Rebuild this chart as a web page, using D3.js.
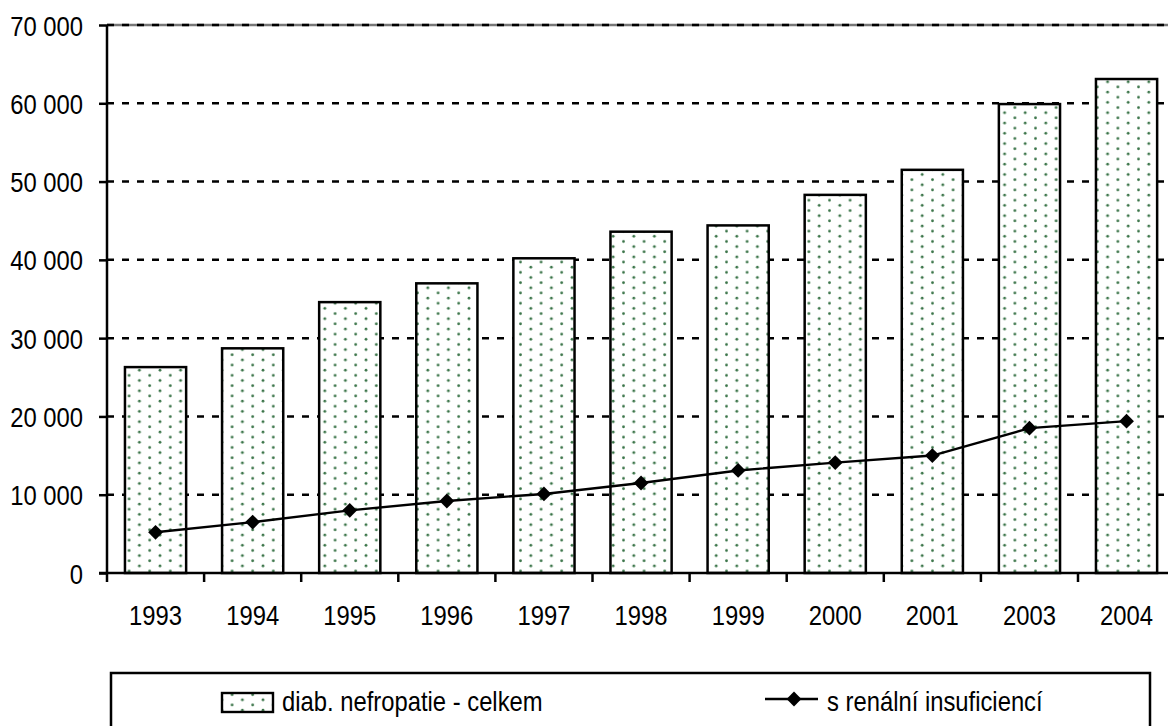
<!DOCTYPE html>
<html>
<head>
<meta charset="utf-8">
<script src="https://cdn.jsdelivr.net/npm/d3@7/dist/d3.min.js"></script>
<style>
  html, body { margin: 0; padding: 0; background: #fff; }
  svg { display: block; font-family: "Liberation Sans", Arial, sans-serif; }
  .tl { font-size: 28px; fill: #000; }
</style>
</head>
<body>
<svg id="chart" width="1168" height="726"></svg>
<script>
const years = ['1993', '1994', '1995', '1996', '1997', '1998', '1999', '2000', '2001', '2003', '2004'];
const celkem = [26300, 28700, 34600, 37000, 40200, 43600, 44400, 48300, 51500, 59900, 63100];
const insuf = [5200, 6500, 8000, 9200, 10100, 11500, 13100, 14100, 15000, 18500, 19400];
const yTicks = [0, 10000, 20000, 30000, 40000, 50000, 60000, 70000];
const seriesNames = ['diab. nefropatie - celkem', 's renální insuficiencí'];

const W = 1168, H = 726;
const m = { left: 107, top: 25, bottom: 573 };
const svg = d3.select('#chart');

const x = d3.scaleBand().domain(years).range([m.left, m.left + 97.1 * years.length]).paddingInner(0.37).paddingOuter(0.185);
const y = d3.scaleLinear().domain([0, 70000]).range([m.bottom, m.top]);
const fmt = (v) => d3.format(',')(v).replace(/,/g, ' ');

// dot pattern for the bars
const defs = svg.append('defs');
const pat = defs.append('pattern').attr('id', 'dots')
  .attr('patternUnits', 'userSpaceOnUse').attr('width', 20.6).attr('height', 10.3)
  .attr('x', 3).attr('y', 2);
pat.append('rect').attr('width', 20.6).attr('height', 10.3).attr('fill', '#fff');
pat.append('circle').attr('cx', 2.5).attr('cy', 2.5).attr('r', 1.4).attr('fill', '#3a7448');
pat.append('circle').attr('cx', 12.8).attr('cy', 7.65).attr('r', 1.4).attr('fill', '#3a7448');

// gridlines
const grid = svg.append('g');
grid.append('line').attr('x1', m.left).attr('x2', W).attr('y1', y(70000)).attr('y2', y(70000))
  .attr('stroke', '#777').attr('stroke-width', 2.5);
grid.selectAll('line.g').data(yTicks.filter((d) => d > 0)).join('line').attr('class', 'g')
  .attr('x1', m.left).attr('x2', W)
  .attr('y1', (d) => y(d)).attr('y2', (d) => y(d))
  .attr('stroke', '#000').attr('stroke-width', 2.5).attr('stroke-dasharray', '7,8');

// bars
svg.append('g').selectAll('rect').data(years).join('rect')
  .attr('x', (d) => x(d)).attr('width', x.bandwidth())
  .attr('y', (d, i) => y(celkem[i])).attr('height', (d, i) => y(0) - y(celkem[i]))
  .attr('fill', 'url(#dots)').attr('stroke', '#000').attr('stroke-width', 2.5);

// axes
const yAxis = d3.axisLeft(y).tickValues(yTicks).tickSize(8).tickPadding(16).tickFormat(fmt);
const gy = svg.append('g').attr('transform', `translate(${m.left},0)`).call(yAxis);
gy.attr('font-family', null).attr('font-size', null);
gy.select('.domain').attr('stroke-width', 2.5).attr('d', `M0,${m.top}V${m.bottom}`);
gy.selectAll('.tick line').attr('stroke-width', 2.5);
gy.selectAll('.tick text').attr('class', 'tl').attr('x', -24).attr('dy', null).attr('y', 10);

const xTickPos = d3.range(years.length + 1).map((i) => m.left + i * x.step());
const gx = svg.append('g');
gx.append('line').attr('x1', m.left - 8).attr('x2', W).attr('y1', y(0)).attr('y2', y(0))
  .attr('stroke', '#000').attr('stroke-width', 2.5);
gx.selectAll('line.t').data(xTickPos).join('line').attr('class', 't')
  .attr('x1', (d) => d).attr('x2', (d) => d).attr('y1', y(0)).attr('y2', y(0) + 9)
  .attr('stroke', '#000').attr('stroke-width', 2.5);
gx.selectAll('text').data(years).join('text').attr('class', 'tl')
  .attr('x', (d) => x(d) + x.bandwidth() / 2).attr('y', 625)
  .attr('text-anchor', 'middle').text((d) => d);

// line series
const cx = (i) => x(years[i]) + x.bandwidth() / 2;
const line = d3.line().x((d, i) => cx(i)).y((d) => y(d));
svg.append('path').datum(insuf).attr('d', line).attr('fill', 'none').attr('stroke', '#000').attr('stroke-width', 2.4);
const diamond = d3.symbol().type(d3.symbolDiamond2).size(140);
svg.append('g').selectAll('path').data(insuf).join('path')
  .attr('d', diamond).attr('transform', (d, i) => `translate(${cx(i)},${y(d)})`).attr('fill', '#000');

// legend
const lg = svg.append('g');
lg.append('rect').attr('x', 111).attr('y', 673).attr('width', 1039).attr('height', 80)
  .attr('fill', '#fff').attr('stroke', '#000').attr('stroke-width', 2.5);
lg.append('rect').attr('x', 222).attr('y', 693).attr('width', 51).attr('height', 19)
  .attr('fill', 'url(#dots)').attr('stroke', '#000').attr('stroke-width', 2.4);
lg.append('text').attr('class', 'tl').attr('x', 282).attr('y', 711).text(seriesNames[0]);
lg.append('line').attr('x1', 765).attr('x2', 818).attr('y1', 699).attr('y2', 699).attr('stroke', '#000').attr('stroke-width', 2.4);
lg.append('path').attr('d', diamond).attr('transform', 'translate(794,699)').attr('fill', '#000');
lg.append('text').attr('class', 'tl').attr('x', 827).attr('y', 711).text(seriesNames[1]);

// squeeze text horizontally to imitate the narrow face of the original
svg.selectAll('text.tl').each(function () {
  const len = this.getComputedTextLength();
  d3.select(this).attr('textLength', len * 0.85).attr('lengthAdjust', 'spacingAndGlyphs');
});
</script>
</body>
</html>
